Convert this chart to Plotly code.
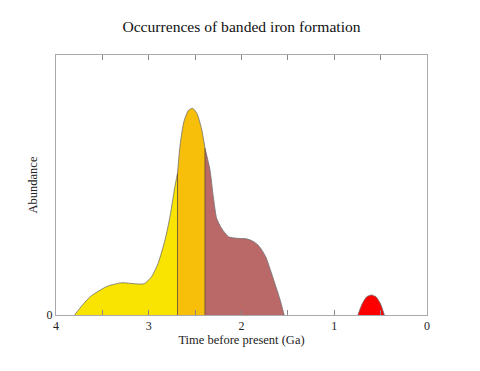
import plotly.graph_objects as go

# Data (time before present in Ga, abundance in arbitrary units)
yellow_t = [3.80, 3.72, 3.63, 3.45, 3.29, 3.15, 3.05, 2.97, 2.90, 2.825, 2.77, 2.72, 2.69]
yellow_a = [0.0, 3.6, 7.1, 11.0, 12.4, 12.0, 12.0, 14.7, 19.8, 28.8, 38.0, 49.0, 54.5]
orange_t = [2.69, 2.66, 2.62, 2.57, 2.527, 2.48, 2.43, 2.394]
orange_a = [54.5, 66.0, 74.5, 78.8, 79.5, 77.5, 71.5, 64.2]
brown_t = [2.394, 2.34, 2.304, 2.268, 2.214, 2.14, 2.05, 1.95, 1.89, 1.84, 1.80, 1.74, 1.69, 1.63, 1.585, 1.54]
brown_a = [64.2, 55.8, 45.5, 37.2, 33.3, 30.1, 29.5, 29.3, 28.6, 27.5, 26.0, 22.5, 17.5, 11.0, 6.0, 0.0]
red_t = [0.745, 0.70, 0.65, 0.60, 0.55, 0.50, 0.46]
red_a = [0.0, 4.2, 7.0, 7.7, 7.0, 4.2, 0.0]

segments = [
    (yellow_t, yellow_a, "#F8E400"),
    (orange_t, orange_a, "#F7BF0A"),
    (brown_t, brown_a, "#BA6868"),
    (red_t, red_a, "#FF0000"),
]

fig = go.Figure()
for t, a, col in segments:
    fig.add_trace(go.Scatter(
        x=t, y=a, mode="lines", fill="tozeroy", fillcolor=col,
        line=dict(color="#707070", width=0.8, shape="spline", smoothing=0.6),
        hoverinfo="skip", showlegend=False))

# boundary lines between periods
for bt, ba in [(orange_t[0], orange_a[0]), (brown_t[0], brown_a[0])]:
    fig.add_trace(go.Scatter(x=[bt, bt], y=[0, ba], mode="lines",
                             line=dict(color="#5a4a30", width=0.8),
                             hoverinfo="skip", showlegend=False))

serif = "Liberation Serif, Times New Roman, serif"
# page body has an 8px offset, margins compensate so the plot box sits at 56..427 x 55..315
fig.update_layout(
    width=480, height=371,
    margin=dict(l=48, r=61, t=47, b=64),
    paper_bgcolor="white", plot_bgcolor="white",
    title=dict(text="Occurrences of banded iron formation", x=0.5, xanchor="center",
               xref="paper", y=1 - 19 / 371, yanchor="middle",
               font=dict(family=serif, size=15.6, color="#111")),
    font=dict(family=serif, size=12, color="#222"),
    xaxis=dict(range=[4, 0], tickvals=[4, 3, 2, 1, 0], ticktext=["4", "3", "2", "1", "0"],
               ticks="inside", ticklen=5, tickcolor="#888", showgrid=False, zeroline=False,
               showline=True, linecolor="#aaa", linewidth=1, mirror="ticks",
               minor=dict(tickvals=[3.5, 2.5, 1.5, 0.5], ticks="inside", ticklen=5, tickcolor="#888"),
               title=dict(text="Time before present (Ga)", standoff=2,
                          font=dict(family=serif, size=12.5)),
               tickfont=dict(family=serif, size=12)),
    yaxis=dict(range=[0, 100], tickvals=[0], ticktext=["0"], ticks="", showgrid=False,
               zeroline=False, showline=True, linecolor="#aaa", linewidth=1, mirror=True,
               title=dict(text="Abundance", standoff=6, font=dict(family=serif, size=12.5)),
               tickfont=dict(family=serif, size=12)),
)

fig.write_html("out.html")
